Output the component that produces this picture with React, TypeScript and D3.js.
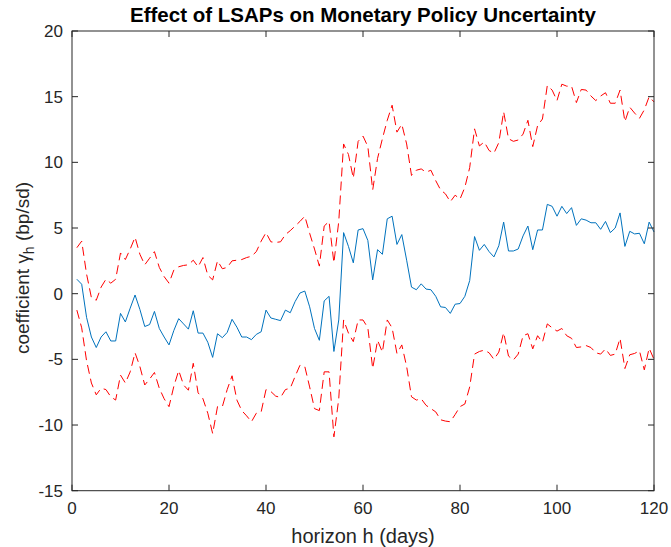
import React from "react";
import * as d3 from "d3";

const meanCoef: number[] = [
  1.1, 0.72, -1.8, -3.3, -4.1, -3.3, -2.9, -3.6, -3.6, -1.5,
  -2.15, -1.1, -0.1, -1.2, -2.5, -2.35, -1.35, -2.65, -3.3, -3.9,
  -2.8, -1.9, -2.3, -2.7, -1.3, -3.0, -3.0, -3.7, -4.85, -3.05,
  -3.35, -2.95, -1.95, -2.55, -3.3, -3.3, -3.5, -3.1, -2.9, -1.25,
  -1.85, -1.95, -2.05, -1.25, -1.45, -0.6, 0.05, 0.2, -1.0, -2.65,
  -3.55, -0.55, -0.2, -4.4, -2.0, 4.65, 3.6, 2.35, 4.85, 4.95,
  4.05, 1.05, 3.35, 3.0, 5.7, 5.9, 3.75, 4.5, 2.55, 0.5,
  0.3, 0.75, 0.35, 0.3, -0.2, -1.0, -1.05, -1.5, -0.8, -0.75,
  -0.2, 1.0, 4.35, 3.3, 3.75, 3.2, 2.8, 3.65, 5.45, 3.25,
  3.25, 3.4, 4.4, 5.15, 3.35, 4.85, 4.85, 6.8, 6.65, 5.9,
  6.65, 6.1, 6.55, 5.2, 5.7, 5.6, 5.4, 5.4, 4.9, 5.5,
  4.65, 5.0, 6.15, 3.6, 4.75, 4.55, 4.6, 3.8, 5.45, 4.7,
];

const upperBand: number[] = [
  3.5, 4.0, 1.5, -0.3, -0.5, 0.5, 1.1, 0.8, 1.1, 3.1,
  2.6, 3.4, 4.3, 3.0, 2.2, 2.7, 3.2, 2.0, 1.3, 0.8,
  1.8, 2.05, 2.15, 2.2, 2.55, 2.05, 2.75, 1.4, 1.05, 2.5,
  1.9, 2.0, 2.5, 2.55, 2.6, 2.75, 2.85, 3.2, 4.0, 4.65,
  3.95, 3.9, 3.95, 4.5, 4.8, 5.15, 5.5, 5.9, 4.6, 3.4,
  2.1, 5.15, 5.5, 2.35, 5.5, 11.4, 10.6, 8.8, 11.6, 12.0,
  11.2, 7.9, 10.3, 11.8, 13.2, 14.35, 12.3, 12.9, 11.4, 9.0,
  9.4, 9.5, 9.25, 9.4, 8.6, 7.9, 7.6, 7.0, 7.5, 7.2,
  8.1, 9.6, 12.55, 11.25, 11.55, 10.9, 10.7, 11.5, 13.85, 11.8,
  11.6, 11.7, 12.15, 13.2, 11.2, 12.8, 13.3, 15.85, 15.5, 14.7,
  15.95, 15.8, 15.8, 14.55, 15.55, 15.5, 15.05, 14.7, 15.05, 15.3,
  14.5, 14.5, 15.5, 13.1, 14.2, 13.75, 13.35, 14.0, 15.0, 14.6,
];

const lowerBand: number[] = [
  -1.25, -2.6, -5.1, -6.8, -7.7, -7.2, -7.3, -7.85, -8.1, -6.2,
  -6.8, -5.95, -4.5, -5.55, -6.95, -6.5, -6.0, -7.2, -8.0, -8.6,
  -7.05, -5.85, -6.95, -7.35, -5.3, -7.55, -8.0, -9.1, -10.65, -8.6,
  -8.6, -7.3, -6.25, -8.1, -8.9, -9.3, -9.75, -9.1, -9.0, -7.3,
  -7.45, -7.8, -7.9, -7.3, -7.2, -6.3, -5.45, -5.55, -7.1, -8.75,
  -8.9, -5.95, -5.95, -10.9, -8.0, -2.0, -3.0, -3.65, -2.0, -2.0,
  -2.6, -5.7, -3.55, -4.45, -2.0, -2.6, -4.55, -3.9, -5.55, -7.85,
  -8.1, -8.0, -8.5, -8.75, -9.0, -9.6, -9.7, -9.75, -9.2, -8.6,
  -8.4, -7.1, -4.6, -4.4, -4.3, -4.5, -5.0, -4.45, -2.97, -4.75,
  -5.05, -4.6, -3.2, -3.05, -4.2, -3.2, -3.7, -2.3, -2.6, -2.85,
  -2.65, -3.2, -3.4, -4.1, -4.05, -3.95, -4.1, -4.5, -4.6, -4.2,
  -4.7, -4.6, -3.4, -5.7, -4.65, -4.55, -4.35, -5.8, -4.15, -5.0,
];

const xTicks: number[] = [0, 20, 40, 60, 80, 100, 120];
const yTicks: number[] = [-15, -10, -5, 0, 5, 10, 15, 20];

const W = 671;
const H = 547;
const left = 72;
const right = 654;
const top = 31;
const bottom = 490.7;
const axisColor = "#262626";
const font = "'Liberation Sans', Arial, Helvetica, sans-serif";

export default function App() {
  const x = d3.scaleLinear().domain([0, 120]).range([left, right]);
  const y = d3.scaleLinear().domain([-15, 20]).range([bottom, top]);
  const line = d3
    .line<number>()
    .x((_, i) => x(i + 1))
    .y((d) => y(d));
  const tl = 6;

  return (
    <svg
      width={W}
      height={H}
      style={{ position: "absolute", left: 0, top: 0, background: "#fff" }}
      fontFamily={font}
    >
      <rect x={0} y={0} width={W} height={H} fill="#fff" />
      <path d={line(upperBand) || ""} fill="none" stroke="#ff0000" strokeWidth={1} strokeDasharray="9,5" />
      <path d={line(lowerBand) || ""} fill="none" stroke="#ff0000" strokeWidth={1} strokeDasharray="9,5" />
      <path d={line(meanCoef) || ""} fill="none" stroke="#0072BD" strokeWidth={1} />
      <rect x={left} y={top} width={right - left} height={bottom - top} fill="none" stroke={axisColor} strokeWidth={1} />
      {xTicks.map((t) => (
        <g key={"x" + t}>
          <line x1={x(t)} x2={x(t)} y1={bottom} y2={bottom - tl} stroke={axisColor} />
          <line x1={x(t)} x2={x(t)} y1={top} y2={top + tl} stroke={axisColor} />
          <text x={x(t)} y={514} textAnchor="middle" fontSize={17} fill={axisColor}>
            {t}
          </text>
        </g>
      ))}
      {yTicks.map((t) => (
        <g key={"y" + t}>
          <line x1={left} x2={left + tl} y1={y(t)} y2={y(t)} stroke={axisColor} />
          <line x1={right} x2={right - tl} y1={y(t)} y2={y(t)} stroke={axisColor} />
          <text x={63} y={y(t) + 6} textAnchor="end" fontSize={17} fill={axisColor}>
            {t}
          </text>
        </g>
      ))}
      <text x={(left + right) / 2} y={22} textAnchor="middle" fontSize={20.5} fontWeight="bold" fill="#000">
        Effect of LSAPs on Monetary Policy Uncertainty
      </text>
      <text x={(left + right) / 2} y={543} textAnchor="middle" fontSize={20} fill={axisColor}>
        horizon h (days)
      </text>
      <text
        transform={`translate(29, 268) rotate(-90)`}
        textAnchor="middle"
        fontSize={19}
        fill={axisColor}
      >
        coefficient γ<tspan fontSize={14} dy={5}>h</tspan>
        <tspan dy={-5}> (bp/sd)</tspan>
      </text>
    </svg>
  );
}
